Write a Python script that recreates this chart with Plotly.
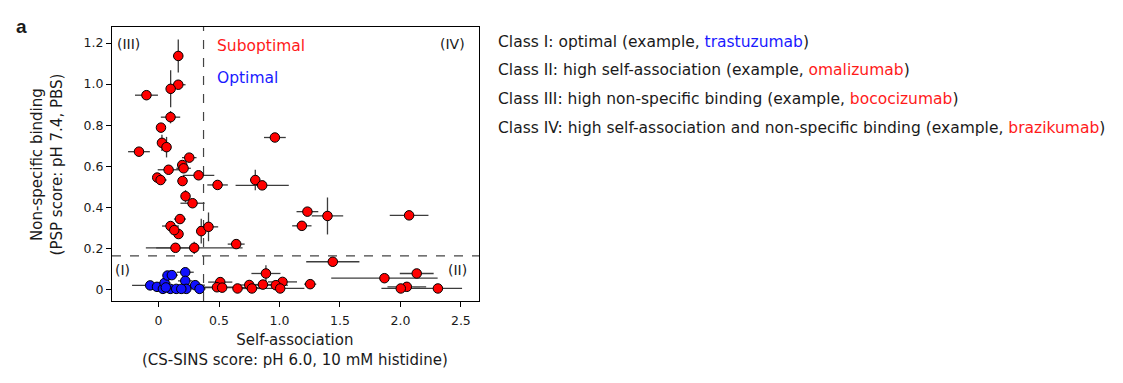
import plotly.graph_objects as go

# ---------------- data ----------------
# Suboptimal antibodies (classes II, III, IV) - red
red_x = [0.163, 0.163, 0.10, -0.10, 0.099, 0.02, 0.028, 0.066, -0.162, 0.254,
         0.196, 0.207, 0.083, 0.331, -0.011, 0.017, 0.198, 0.488, 0.223, 0.281,
         0.177, 0.099, 0.165, 0.13, 0.353, 0.413, 0.14, 0.295, 0.642, 0.962,
         0.80, 0.857, 1.231, 1.397, 1.185, 2.072, 1.441, 2.135, 1.868, 2.053,
         2.003, 2.31, 1.254, 0.888, 1.025, 0.97, 1.006, 0.863, 0.75, 0.772,
         0.653, 0.51, 0.483, 0.526]
red_y = [1.137, 0.997, 0.977, 0.946, 0.839, 0.788, 0.714, 0.693, 0.671, 0.642,
         0.606, 0.590, 0.583, 0.556, 0.545, 0.533, 0.528, 0.509, 0.454, 0.420,
         0.343, 0.309, 0.270, 0.289, 0.284, 0.305, 0.203, 0.203, 0.221, 0.740,
         0.533, 0.507, 0.379, 0.358, 0.310, 0.361, 0.135, 0.078, 0.055, 0.013,
         0.005, 0.005, 0.026, 0.078, 0.037, 0.021, 0.005, 0.024, 0.022, 0.005,
         0.005, 0.036, 0.011, 0.009]
red_xerr = [0.04, 0.06, 0.02, 0.095, 0.08, 0.02, 0.03, 0.01, 0.09, 0.06,
            0.04, 0.06, 0.09, 0.13, 0.03, 0.05, 0.04, 0.085, 0.03, 0.10,
            0.05, 0.07, 0.03, 0.05, 0.02, 0.08, 0.16, 0.40, 0.07, 0.09,
            0.04, 0.22, 0.09, 0.13, 0.08, 0.16, 0.22, 0.14, 0.44, 0.16,
            0.16, 0.20, 0.05, 0.12, 0.12, 0.10, 0.20, 0.08, 0.08, 0.10,
            0.04, 0.10, 0.20, 0.30]
red_yerr = [0.08, 0.02, 0.09, 0.01, 0.03, 0.01, 0.04, 0.05, 0.01, 0.01,
            0.02, 0.02, 0.01, 0.01, 0.01, 0.01, 0.02, 0.01, 0.03, 0.01,
            0.01, 0.01, 0.01, 0.02, 0.06, 0.07, 0.01, 0.03, 0.01, 0.01,
            0.05, 0.01, 0.01, 0.09, 0.01, 0.01, 0.01, 0.01, 0.01, 0.01,
            0.01, 0.01, 0.01, 0.04, 0.01, 0.01, 0.01, 0.01, 0.01, 0.01,
            0.01, 0.01, 0.01, 0.01]

# Optimal antibodies (class I) - blue
blue_x = [-0.069, -0.013, 0.036, 0.05, 0.074, 0.11, 0.097, 0.146, 0.221, 0.221,
          0.229, 0.303, 0.339, 0.188, 0.06]
blue_y = [0.020, 0.013, 0.003, 0.032, 0.068, 0.070, 0.003, 0.003, 0.084, 0.042,
          0.003, 0.021, 0.003, 0.003, 0.010]
blue_xerr = [0.15, 0.04, 0.03, 0.05, 0.04, 0.05, 0.04, 0.04, 0.07, 0.06,
             0.05, 0.08, 0.05, 0.04, 0.03]
blue_yerr = [0.005, 0.005, 0.005, 0.01, 0.01, 0.01, 0.005, 0.005, 0.01, 0.02,
             0.005, 0.01, 0.005, 0.005, 0.005]

x_threshold = 0.372
y_threshold = 0.164

x_tickvals = [0, 0.5, 1.0, 1.5, 2.0, 2.5]
x_ticktext = ["0", "0.5", "1.0", "1.5", "2.0", "2.5"]
y_tickvals = [0, 0.2, 0.4, 0.6, 0.8, 1.0, 1.2]
y_ticktext = ["0", "0.2", "0.4", "0.6", "0.8", "1.0", "1.2"]

x_title = "Self-association<br>(CS-SINS score: pH 6.0, 10 mM histidine)"
y_title = "Non-specific binding<br>(PSP score: pH 7.4, PBS)"

legend_lines = [
    ("Class I: optimal (example, ", "trastuzumab", "#1a1aff"),
    ("Class II: high self-association (example, ", "omalizumab", "#ff1a1a"),
    ("Class III: high non-specific binding (example, ", "bococizumab", "#ff1a1a"),
    ("Class IV: high self-association and non-specific binding (example, ", "brazikumab", "#ff1a1a"),
]

FONT = "DejaVu Sans"
TXT = "#1a1a1a"
ERR = "#3c3c3c"

fig = go.Figure()

def add_group(xs, ys, xe, ye, color):
    fig.add_trace(go.Scatter(
        x=xs, y=ys, mode="markers",
        marker=dict(color=color, size=9.5, line=dict(color="black", width=1)),
        error_x=dict(type="data", array=xe, color=ERR, thickness=1.3, width=0),
        error_y=dict(type="data", array=ye, color=ERR, thickness=1.3, width=0),
        showlegend=False, hoverinfo="skip",
    ))

add_group(red_x, red_y, red_xerr, red_yerr, "#ff0000")
add_group(blue_x, blue_y, blue_xerr, blue_yerr, "#1010ff")

# threshold dashed lines
fig.add_shape(type="line", xref="x", yref="paper", x0=x_threshold, x1=x_threshold,
              y0=0, y1=1, line=dict(color="#444", width=1.2, dash="dash"), layer="below")
fig.add_shape(type="line", xref="paper", yref="y", x0=0, x1=1,
              y0=y_threshold, y1=y_threshold, line=dict(color="#444", width=1.2, dash="dash"), layer="below")

ann = []
def txt(x, y, s, color=TXT, size=14, xanchor="center", xref="x", yref="y", bold=False,
        angle=0, family=FONT):
    ann.append(dict(x=x, y=y, xref=xref, yref=yref, text=(f"<b>{s}</b>" if bold else s),
                    showarrow=False, xanchor=xanchor, yanchor="middle", textangle=angle,
                    font=dict(family=family, size=size, color=color)))

txt(-0.25, 1.197, "(III)")
txt(2.43, 1.197, "(IV)")
txt(-0.30, 0.094, "(I)")
txt(2.47, 0.094, "(II)")
txt(0.468, 1.187, "Suboptimal", color="#ff1a1a", size=15.5, xanchor="left")
txt(0.468, 1.031, "Optimal", color="#1a1aff", size=15.5, xanchor="left")
txt(-0.268, 1.003, "a", size=19, xanchor="left", xref="paper", yref="paper", bold=True,
    family="Liberation Sans")

# axis titles
txt(0.499, -0.178, x_title, size=15, xref="paper", yref="paper")
txt(-0.176, 0.5, y_title, size=15, xref="paper", yref="paper", angle=-90)

leg_y = [0.946, 0.844, 0.738, 0.632]
for (pre, drug, col), yy in zip(legend_lines, leg_y):
    txt(1.046, yy, f"{pre}<span style='color:{col}'>{drug}</span>)", size=15.5,
        xanchor="left", xref="paper", yref="paper")

axis_common = dict(showgrid=False, zeroline=False, showline=True, linecolor="black",
                   linewidth=1.2, mirror=True, ticks="outside", ticklen=5, tickcolor="black",
                   tickfont=dict(size=12.5, color=TXT, family=FONT), automargin=False)

fig.update_layout(
    width=1123, height=383,
    margin=dict(l=104, r=652, t=19, b=90, autoexpand=False),
    paper_bgcolor="white", plot_bgcolor="white",
    font=dict(family=FONT, size=13, color=TXT),
    annotations=ann,
    xaxis=dict(range=[-0.385, 2.65], tickvals=x_tickvals, ticktext=x_ticktext,
               ticklabelstandoff=3, **axis_common),
    yaxis=dict(range=[-0.056, 1.278], tickvals=y_tickvals, ticktext=y_ticktext, **axis_common),
)

fig.write_html("out.html")
